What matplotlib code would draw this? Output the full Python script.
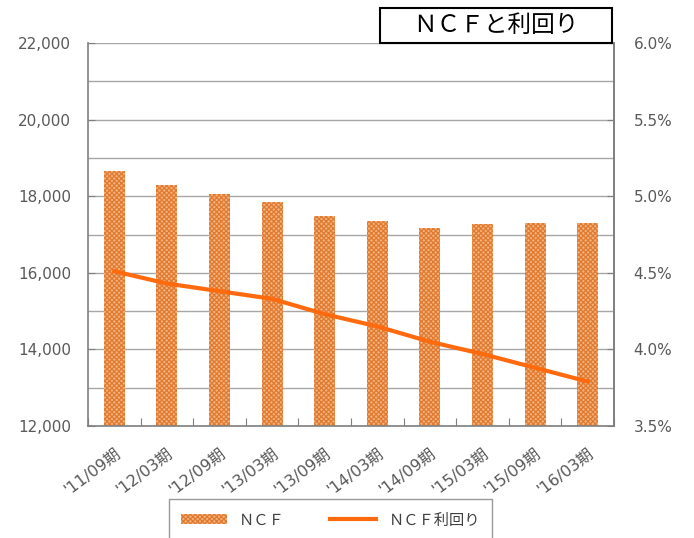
import matplotlib
matplotlib.use("Agg")
import matplotlib.pyplot as plt
from matplotlib.patches import Rectangle, Patch
from matplotlib.lines import Line2D
from matplotlib.ticker import FuncFormatter, MultipleLocator

plt.rcParams['font.family'] = ['DejaVu Sans', 'Noto Sans CJK JP']
plt.rcParams['hatch.linewidth'] = 0.9

# data
periods = ["'11/09期", "'12/03期", "'12/09期", "'13/03期", "'13/09期",
           "'14/03期", "'14/09期", "'15/03期", "'15/09期", "'16/03期"]
ncf = [18654, 18280, 18052, 17861, 17494, 17340, 17165, 17262, 17297, 17297]
ncf_yield = [4.51, 4.43, 4.38, 4.33, 4.23, 4.15, 4.05, 3.97, 3.88, 3.79]

title = "ＮＣＦと利回り"
label_bar = "ＮＣＦ"
label_line = "ＮＣＦ利回り"

gray_txt = '#595959'
bar_face = '#F3B27C'
bar_hatch = '#E07A30'
line_col = '#FF6A0E'

fig = plt.figure(figsize=(6.94, 5.38), dpi=100)
ax = fig.add_axes([0.1268, 0.2082, 0.7579, 0.7118])

x = range(len(periods))
ax.bar(x, ncf, width=0.4, color=bar_face, edgecolor=bar_hatch, linewidth=0,
       hatch='xxxxxxx', zorder=2)
ax.set_ylim(12000, 22000)
ax.set_xlim(-0.5, len(periods) - 0.5)
ax.yaxis.set_major_locator(MultipleLocator(2000))
ax.yaxis.set_minor_locator(MultipleLocator(1000))
ax.yaxis.set_major_formatter(FuncFormatter(lambda v, p: f"{int(v):,}"))
ax.grid(axis='y', which='both', color='#A6A6A6', linewidth=1.0, zorder=0)
ax.set_axisbelow(True)

ax.set_xticks([i + 0.5 for i in range(-1, len(periods))], minor=False)
ax.set_xticklabels([])
ax.set_xticks(list(x), minor=True)
ax.set_xticklabels(periods, minor=True, rotation=37, ha='right',
                   rotation_mode='anchor', color=gray_txt, fontsize=11.5)
ax.tick_params(axis='x', which='major', direction='in', length=6, color='#7F7F7F')
ax.tick_params(axis='x', which='minor', length=0, pad=14)
ax.tick_params(axis='y', which='major', direction='in', length=5, color='#7F7F7F',
               labelcolor=gray_txt, labelsize=11, pad=12)
ax.tick_params(axis='y', which='minor', length=0)

for s in ['left', 'bottom', 'right']:
    ax.spines[s].set_color('#7F7F7F')
    ax.spines[s].set_linewidth(1.2)
ax.spines['top'].set_visible(False)

ax2 = ax.twinx()
ax2.plot(list(x), ncf_yield, color=line_col, linewidth=3, zorder=3)
ax2.set_ylim(3.5, 6.0)
ax2.yaxis.set_major_locator(MultipleLocator(0.5))
ax2.yaxis.set_major_formatter(FuncFormatter(lambda v, p: f"{v:.1f}%"))
ax2.tick_params(axis='y', direction='in', length=5, color='#7F7F7F',
                labelcolor=gray_txt, labelsize=11, pad=14)
for s in ['left', 'bottom', 'top']:
    ax2.spines[s].set_visible(False)
ax2.spines['right'].set_color('#7F7F7F')
ax2.spines['right'].set_linewidth(1.2)

# title box
fig.patches.append(Rectangle((0.5476, 0.920), 0.3343, 0.065, transform=fig.transFigure,
                             facecolor='white', edgecolor='black', linewidth=1.5, zorder=5))
fig.text(0.7147, 0.9526, title, ha='center', va='center', fontsize=17,
         family=['Noto Sans CJK JP'], zorder=6)

handles = [Patch(facecolor=bar_face, edgecolor=bar_hatch, linewidth=0, hatch='xxxxxxx'),
           Line2D([0], [0], color=line_col, linewidth=3)]
leg = fig.legend(handles, [label_bar, label_line], loc='upper center',
                 bbox_to_anchor=(0.476, 0.072), ncol=2, frameon=True,
                 fancybox=False, edgecolor='#808080',
                 prop={'family': ['Noto Sans CJK JP'], 'size': 11},
                 handlelength=3, columnspacing=3, borderpad=0.8,
                 borderaxespad=0)
leg.get_frame().set_linewidth(1.0)
for t in leg.get_texts():
    t.set_color('#404040')

fig.savefig("out.png", dpi=100)
